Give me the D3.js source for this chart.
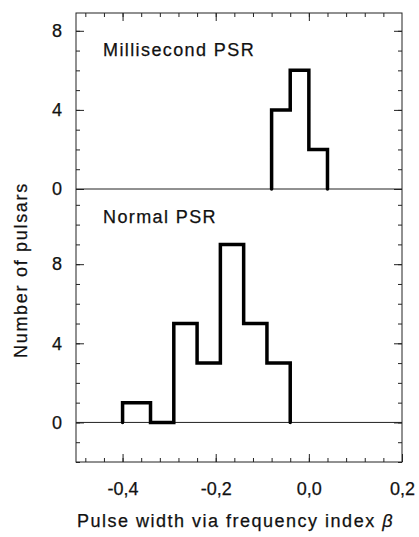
<!DOCTYPE html>
<html>
<head>
<meta charset="utf-8">
<script src="https://cdn.jsdelivr.net/npm/d3@7"></script>
<style>
  body { margin: 0; background: #fff; }
  text { font-family: "Liberation Sans", Arial, sans-serif; fill: #111; stroke: #111; stroke-width: 0.25px; }
</style>
</head>
<body>
<svg width="419" height="537"></svg>
<script>
// bin edges and counts
let msEdges = [-0.08, -0.04, 0.0, 0.04];
let msCounts = [4, 6, 2];
let normEdges = [-0.40, -0.34, -0.29, -0.24, -0.19, -0.14, -0.09, -0.04];
let normCounts = [1, 0, 5, 3, 9, 5, 3];

let xMinor = d3.range(-0.48, 0.17, 0.04).map(d => +d.toFixed(2));
let xMajor = [-0.4, -0.2, 0.0, 0.2];
let yLabels = [0, 4, 8];
let topMinor = d3.range(0, 9);
let botMinor = d3.range(-2, 12);

let svg = d3.select("svg");
let left = 76, right = 402;

let x = d3.scaleLinear().domain([-0.5, 0.2]).range([left, right]);
let yTop = d3.scaleLinear().domain([0, 8.9]).range([189, 13]);
let yBot = d3.scaleLinear().domain([-2, 11.8]).range([462, 189]);

let loc = d3.formatLocale({decimal: ",", thousands: ".", grouping: [3], currency: ["", ""], minus: "-"});
let fmtX = loc.format(".1f");

// frame
svg.append("rect")
  .attr("x", left).attr("y", yTop(8.9))
  .attr("width", right - left).attr("height", yBot(-2) - yTop(8.9))
  .attr("fill", "none").attr("stroke", "#222").attr("stroke-width", 1);

// zero lines
[yTop, yBot].forEach(y => {
  svg.append("line")
    .attr("x1", left).attr("x2", right)
    .attr("y1", y(0)).attr("y2", y(0))
    .attr("stroke", "#222").attr("stroke-width", 1);
});

const styleAxis = (g) => {
  g.select(".domain").remove();
  g.selectAll(".tick line").attr("stroke", "#222");
  g.selectAll(".tick text")
    .attr("font-size", 18)
    .attr("font-family", "Liberation Sans, Arial, sans-serif")
    .attr("fill", "#111");
};

// y ticks, both panels, both sides
[[yTop, topMinor], [yBot, botMinor]].forEach(([y, minor]) => {
  svg.append("g").attr("transform", "translate(" + left + ",0)")
    .call(d3.axisLeft(y).tickValues(minor).tickSize(-4).tickFormat(""))
    .call(styleAxis);
  svg.append("g").attr("transform", "translate(" + left + ",0)")
    .call(d3.axisLeft(y).tickValues(yLabels).tickSize(-8).tickPadding(14).tickFormat(d3.format("d")))
    .call(styleAxis);
  svg.append("g").attr("transform", "translate(" + right + ",0)")
    .call(d3.axisRight(y).tickValues(minor).tickSize(-4).tickFormat(""))
    .call(styleAxis);
  svg.append("g").attr("transform", "translate(" + right + ",0)")
    .call(d3.axisRight(y).tickValues(yLabels).tickSize(-8).tickFormat(""))
    .call(styleAxis);
});

// x ticks top and bottom
let yb = yBot(-2), yt = yTop(8.9);
svg.append("g").attr("transform", "translate(0," + yb + ")")
  .call(d3.axisBottom(x).tickValues(xMinor).tickSize(-4).tickFormat(""))
  .call(styleAxis);
svg.append("g").attr("transform", "translate(0," + yb + ")")
  .call(d3.axisBottom(x).tickValues(xMajor).tickSize(-8).tickPadding(20).tickFormat(fmtX))
  .call(styleAxis);
svg.append("g").attr("transform", "translate(0," + yt + ")")
  .call(d3.axisTop(x).tickValues(xMinor).tickSize(-4).tickFormat(""))
  .call(styleAxis);
svg.append("g").attr("transform", "translate(0," + yt + ")")
  .call(d3.axisTop(x).tickValues(xMajor.slice(0, 3)).tickSize(-8).tickFormat(""))
  .call(styleAxis);

// histogram outlines
const stepPoints = (edges, counts) => {
  let pts = [[edges[0], 0]];
  counts.forEach((c, i) => {
    pts.push([edges[i], c]);
    pts.push([edges[i + 1], c]);
  });
  pts.push([edges[edges.length - 1], 0]);
  return pts;
};

[[msEdges, msCounts, yTop], [normEdges, normCounts, yBot]].forEach(([edges, counts, y]) => {
  let line = d3.line().x(d => x(d[0])).y(d => y(d[1]));
  svg.append("path")
    .attr("d", line(stepPoints(edges, counts)))
    .attr("fill", "none")
    .attr("stroke", "#000")
    .attr("stroke-width", 3.5)
    .attr("stroke-linejoin", "miter")
    .attr("stroke-linecap", "round");
});

// panel labels
svg.append("text").attr("x", 103).attr("y", 56)
  .attr("font-size", 18).attr("letter-spacing", 1.4)
  .text("Millisecond PSR");
svg.append("text").attr("x", 103).attr("y", 223)
  .attr("font-size", 18).attr("letter-spacing", 1.4)
  .text("Normal PSR");

// axis titles
let xt = svg.append("text").attr("x", 77).attr("y", 527)
  .attr("font-size", 18).attr("letter-spacing", 1.5);
xt.append("tspan").text("Pulse width via frequency index ");
xt.append("tspan").attr("font-style", "italic").text("β");

svg.append("text")
  .attr("transform", "translate(27,270) rotate(-90)")
  .attr("text-anchor", "middle")
  .attr("font-size", 18).attr("letter-spacing", 1.7)
  .text("Number of pulsars");
</script>
</body>
</html>
